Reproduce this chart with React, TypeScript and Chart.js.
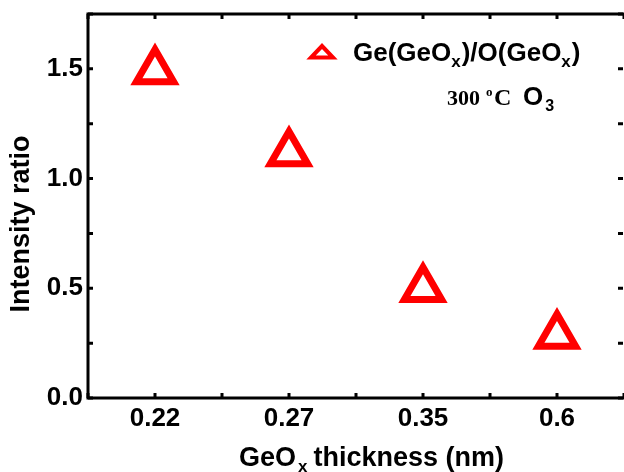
import React, { useEffect, useRef } from 'react';
import { Chart, registerables } from 'chart.js';

Chart.register(...registerables);

// ---- data ----
const categories = ['0.22', '0.27', '0.35', '0.6'];
const ratioValues = [1.49, 1.117, 0.498, 0.285];
const yTickValues = [0, 0.5, 1.0, 1.5];
const yMin = 0;
const yMax = 1.75;
const yMinorStep = 0.25;
const xMinorStep = 0.5;
const xTitleParts = ['GeO', 'x', ' thickness (nm)'];
const yTitle = 'Intensity ratio';
const legendParts = ['Ge(GeO', 'x', ')/O(GeO', 'x', ')'];
const noteParts = ['300', 'o', 'C', 'O', '3'];

const SANS = '"Liberation Sans", Arial, Helvetica, sans-serif';
const SERIF = '"Liberation Serif", "Times New Roman", serif';
const RED = '#ff0000';

const decorPlugin = {
  id: 'decor',
  afterDraw(chart: any) {
    const { ctx, chartArea: a, scales } = chart;
    const xs = scales.x;
    const ys = scales.y;
    ctx.save();
    // frame (right edge falls at the canvas border)
    ctx.strokeStyle = '#000';
    ctx.lineWidth = 3;
    ctx.lineCap = 'square';
    ctx.beginPath();
    ctx.moveTo(a.right, a.top);
    ctx.lineTo(a.left, a.top);
    ctx.lineTo(a.left, a.bottom);
    ctx.lineTo(a.right, a.bottom);
    ctx.stroke();
    ctx.lineCap = 'butt';
    // inward ticks on all sides
    const tl = 5;
    ctx.beginPath();
    for (let v = xs.min; v <= xs.max + 1e-9; v += xMinorStep) {
      const px = xs.getPixelForValue(v);
      ctx.moveTo(px, a.bottom);
      ctx.lineTo(px, a.bottom - tl);
      ctx.moveTo(px, a.top);
      ctx.lineTo(px, a.top + tl);
    }
    for (let v = ys.min; v <= ys.max + 1e-9; v += yMinorStep) {
      const py = ys.getPixelForValue(v);
      ctx.moveTo(a.left, py);
      ctx.lineTo(a.left + tl, py);
      ctx.moveTo(a.right - 1, py);
      ctx.lineTo(a.right - 1 - tl, py);
    }
    ctx.stroke();

    ctx.fillStyle = '#000';
    ctx.textBaseline = 'alphabetic';
    ctx.textAlign = 'left';

    // x title
    ctx.font = `bold 27px ${SANS}`;
    ctx.fillText(xTitleParts[0], 239, 466);
    const gw = ctx.measureText(xTitleParts[0]).width;
    ctx.font = `bold 17px ${SANS}`;
    ctx.fillText(xTitleParts[1], 239 + gw + 2, 472);
    ctx.font = `bold 27px ${SANS}`;
    ctx.fillText(xTitleParts[2], 306, 466);

    // y title
    ctx.save();
    ctx.translate(22, 224);
    ctx.rotate(-Math.PI / 2);
    ctx.textAlign = 'center';
    ctx.textBaseline = 'middle';
    ctx.font = `bold 27px ${SANS}`;
    ctx.fillText(yTitle, 0, 0);
    ctx.restore();

    // legend marker
    ctx.strokeStyle = RED;
    ctx.lineWidth = 4;
    ctx.lineJoin = 'miter';
    ctx.beginPath();
    ctx.moveTo(322, 46);
    ctx.lineTo(333, 57.5);
    ctx.lineTo(311, 57.5);
    ctx.closePath();
    ctx.stroke();

    // legend text with subscripts
    let x = 353;
    const base = 61;
    legendParts.forEach((p, i) => {
      const sub = i % 2 === 1;
      ctx.font = sub ? `bold 17px ${SANS}` : `bold 26px ${SANS}`;
      ctx.fillText(p, x, sub ? base + 6 : base);
      x += ctx.measureText(p).width + (sub ? 1 : 0);
    });

    // 300 oC O3
    const nb = 105;
    ctx.font = `bold 22px ${SERIF}`;
    ctx.fillText(noteParts[0], 447, nb);
    ctx.font = `bold 13px ${SERIF}`;
    ctx.fillText(noteParts[1], 486, nb - 9);
    ctx.font = `bold 24px ${SERIF}`;
    ctx.fillText(noteParts[2], 494, nb);
    ctx.font = `bold 26px ${SANS}`;
    ctx.fillText(noteParts[3], 523, nb);
    const ow = ctx.measureText(noteParts[3]).width;
    ctx.font = `bold 16px ${SANS}`;
    ctx.fillText(noteParts[4], 523 + ow + 2, nb + 6);

    ctx.restore();
  },
};

export default function App() {
  const ref = useRef<HTMLCanvasElement | null>(null);
  useEffect(() => {
    if (!ref.current) return;
    const chart = new Chart(ref.current, {
      type: 'scatter',
      data: {
        datasets: [
          {
            label: 'Ge(GeOx)/O(GeOx)',
            data: categories.map((_, i) => ({ x: i + 1, y: ratioValues[i] })),
            pointStyle: 'triangle',
            pointRadius: 21.5,
            pointHoverRadius: 21.5,
            pointBorderWidth: 7,
            pointBorderColor: RED,
            pointBackgroundColor: 'rgba(0,0,0,0)',
            showLine: false,
            clip: false,
          } as any,
        ],
      },
      options: {
        animation: false,
        responsive: false,
        devicePixelRatio: 1,
        events: [],
        layout: { autoPadding: false, padding: { left: 0, top: 14, right: 0, bottom: 0 } },
        plugins: { legend: { display: false }, tooltip: { enabled: false } },
        scales: {
          x: {
            type: 'linear',
            min: 0.5,
            max: categories.length + 0.5,
            grid: { display: false, drawTicks: false },
            border: { display: false },
            ticks: {
              color: '#000',
              padding: 5,
              font: { family: SANS, size: 26, weight: 'bold' },
              callback: (v: any) => categories[Math.round(Number(v)) - 1] ?? '',
            },
            afterBuildTicks: (s: any) => {
              s.ticks = categories.map((_, i) => ({ value: i + 1 }));
            },
            afterFit: (s: any) => {
              s.height = 74;
              s.paddingLeft = 0;
              s.paddingRight = 0;
            },
          },
          y: {
            type: 'linear',
            min: yMin,
            max: yMax,
            grid: { display: false, drawTicks: false },
            border: { display: false },
            ticks: {
              color: '#000',
              padding: 5,
              font: { family: SANS, size: 26, weight: 'bold' },
              callback: (v: any) => Number(v).toFixed(1),
            },
            afterBuildTicks: (s: any) => {
              s.ticks = yTickValues.map((v) => ({ value: v }));
            },
            afterFit: (s: any) => {
              s.width = 88;
              s.paddingTop = 0;
              s.paddingBottom = 0;
            },
          },
        },
      } as any,
      plugins: [decorPlugin],
    });
    return () => chart.destroy();
  }, []);
  return (
    <div style={{ position: 'absolute', left: 0, top: 0, width: 624, height: 472, background: '#fff' }}>
      <canvas ref={ref} width={624} height={472} style={{ display: 'block', width: 624, height: 472 }} />
    </div>
  );
}
